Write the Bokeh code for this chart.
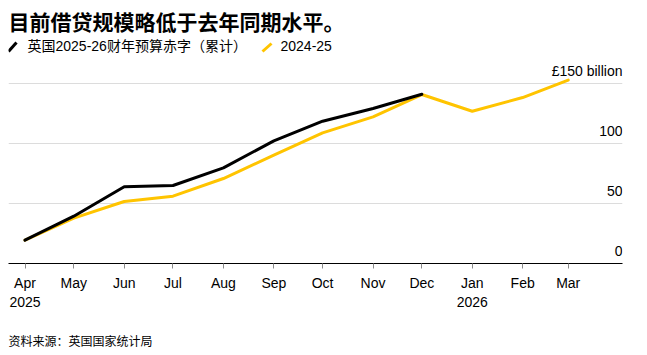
from datetime import date
from bokeh.plotting import figure
from bokeh.models import LinearAxis, Grid, FixedTicker, Range1d, Title
from bokeh.core.properties import value
from bokeh.embed import file_html
from bokeh.resources import INLINE

# ---------------- data ----------------
title_text = "目前借贷规模略低于去年同期水平。"
series_names = ["英国2025-26财年预算赤字（累计）", "2024-25"]
source_text = "资料来源：英国国家统计局"

months = ["2025-04-01", "2025-05-01", "2025-06-01", "2025-07-01", "2025-08-01", "2025-09-01",
          "2025-10-01", "2025-11-01", "2025-12-01", "2026-01-01", "2026-02-01", "2026-03-01"]
tick_labels = ["Apr\n2025", "May", "Jun", "Jul", "Aug", "Sep", "Oct", "Nov", "Dec", "Jan\n2026", "Feb", "Mar"]

# cumulative deficit, £ billion
deficit_2025_26 = [19.4, 39.4, 63.9, 65.0, 79.7, 102.2, 118.6, 129.2, 141.0]
deficit_2024_25 = [19.4, 37.8, 51.7, 56.1, 70.8, 90.3, 108.8, 122.2, 140.8, 126.9, 138.3, 152.8]

y_ticks = [0, 50, 100, 150]
y_tick_labels = ["0", "50", "100", "£150 billion"]

# ---------------- layout ----------------
W, H = 647, 355
FRAME_L, FRAME_R, FRAME_T, FRAME_B = 8, 622, 0, 263
PX_PER_UNIT = 1.2
origin = date(2025, 4, 1)
days = [(date.fromisoformat(m) - origin).days for m in months]
PX_PER_DAY = 543.2 / days[-1]
FIRST_TICK_PX = 24.5

x_start = -(FIRST_TICK_PX - FRAME_L) / PX_PER_DAY
x_end = x_start + (FRAME_R - FRAME_L) / PX_PER_DAY
y_start = 0
y_end = (FRAME_B - FRAME_T) / PX_PER_UNIT


def sx(px):
    return x_start + (px - FRAME_L) / PX_PER_DAY


def sy(py):
    return (FRAME_B - py) / PX_PER_UNIT


FONT = "Liberation Sans, Noto Sans CJK SC"
BLACK = "#000000"
YELLOW = "#ffc400"

p = figure(width=W, height=H, output_backend="svg", toolbar_location=None,
           x_axis_location=None, y_axis_location=None,
           x_range=Range1d(x_start, x_end), y_range=Range1d(y_start, y_end),
           min_border_left=FRAME_L, min_border_right=W - FRAME_R,
           min_border_top=FRAME_T, min_border_bottom=H - FRAME_B)
p.outline_line_color = None
p.background_fill_color = "white"
p.border_fill_color = "white"
for g in p.grid:
    g.visible = False

# grid
grid = Grid(dimension=1, ticker=FixedTicker(ticks=y_ticks[1:]),
            grid_line_color="#dcdcdc", grid_line_width=1)
p.add_layout(grid)

# x axis
xaxis = LinearAxis(ticker=FixedTicker(ticks=days),
                   major_label_overrides={d: lab for d, lab in zip(days, tick_labels)})
xaxis.axis_line_color = "#000000"
xaxis.axis_line_width = 1
xaxis.major_tick_line_color = "#8a8a8a"
xaxis.major_tick_out = 5
xaxis.major_tick_in = 0
xaxis.minor_tick_line_color = None
xaxis.major_label_standoff = 6
xaxis.major_label_text_font = FONT
xaxis.major_label_text_font_size = "14px"
xaxis.major_label_text_color = "#000000"
p.add_layout(xaxis, "below")

# source note (leading blank line adds the gap below the axis)
src = Title(text="\n" + source_text, align="left", text_font=FONT, text_font_size="12px",
            text_font_style="normal", text_color="#000000", standoff=12)
p.add_layout(src, "below")

# lines
p.line(days[:len(deficit_2024_25)], deficit_2024_25, line_color=YELLOW, line_width=3,
       line_join="round", line_cap="round")
p.line(days[:len(deficit_2025_26)], deficit_2025_26, line_color=BLACK, line_width=3,
       line_join="round", line_cap="round")

# y tick labels inside plot, sitting just above their gridlines
LABEL_LIFT = 13 / PX_PER_UNIT
p.text(x=[x_end] * len(y_ticks), y=[t + LABEL_LIFT for t in y_ticks], text=y_tick_labels,
       text_align="right", text_baseline="alphabetic",
       text_font=value(FONT), text_font_size="14px", text_color="#000000")

# title
p.text(x=[sx(8)], y=[sy(22)], text=[title_text], text_align="left", text_baseline="middle",
       text_font=value(FONT), text_font_size="21px", text_font_style="bold", text_color="#000000")

# legend
p.segment(x0=[sx(8), sx(262)], y0=[sy(51), sy(51)], x1=[sx(16), sx(271)], y1=[sy(42), sy(43)],
          line_color=[BLACK, YELLOW], line_width=3)
p.text(x=[sx(27), sx(280)], y=[sy(45.5), sy(45.5)], text=series_names, text_align="left",
       text_baseline="middle", text_font=value(FONT), text_font_size="14px", text_color="#000000")

open("out.html", "w").write(file_html(p, INLINE))
